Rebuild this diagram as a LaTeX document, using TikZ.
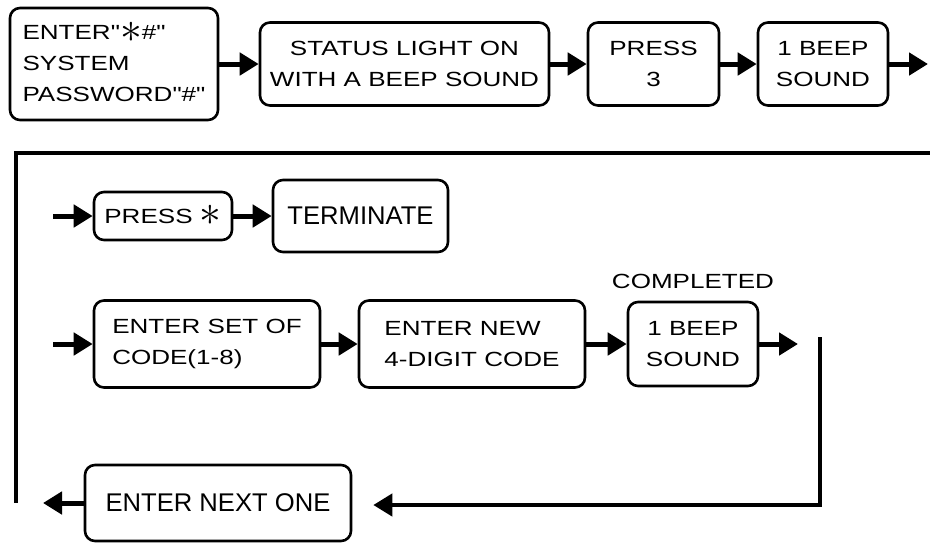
\documentclass[tikz,border=0pt]{standalone}
\usepackage{fontspec}
\setmainfont{Liberation Sans}
\newfontfamily\widefont[FakeStretch=1.27]{Liberation Sans}
\usetikzlibrary{arrows.meta}
% large centred asterisk used in the key labels
\newcommand{\keyast}{\raisebox{-2.2pt}[0pt][0pt]{\scalebox{2.1}{$\ast$}}}
\begin{document}
\begin{tikzpicture}[x=1pt,y=-1pt,
  flowbox/.style={draw, line width=2.6pt, rounded corners=10pt, inner sep=0pt,
    align=center, font=\widefont\fontsize{20.5}{31}\selectfont},
  bigbox/.style={flowbox, font=\fontsize{25.6}{30}\selectfont},
  tip/.style={-{Triangle[length=19pt,width=22pt]}},
  arr/.style={line width=5pt, tip},
  loopline/.style={line width=3.6pt}]
\useasboundingbox (0,0) rectangle (930,542);

% first row
\node[flowbox, align=left, minimum width=208pt, minimum height=112pt] (pw) at (114,64)
  {ENTER"\keyast\#"\\SYSTEM\\PASSWORD"\#"};
\node[flowbox, minimum width=289pt, minimum height=83pt] (st) at (404.5,64)
  {STATUS LIGHT ON\\WITH A BEEP SOUND};
\node[flowbox, minimum width=131pt, minimum height=83pt] (p3) at (653.5,64)
  {PRESS\\3};
\node[flowbox, minimum width=130pt, minimum height=83pt] (bp1) at (823,64)
  {1 BEEP\\SOUND};
\coordinate (out1) at (928,64);

\draw[arr] (pw) -- (st);
\draw[arr] (st) -- (p3);
\draw[arr] (p3) -- (bp1);
\draw[arr] (bp1) -- (out1);

% return frame
\coordinate (fr) at (930,153);
\coordinate (fl) at (16,153);
\coordinate (fb) at (16,503);
\draw[loopline] (fr) -- (fl) -- (fb);

% second row
\coordinate (in2) at (53,216);
\node[flowbox, minimum width=138pt, minimum height=48pt] (pst) at (163,216)
  {PRESS \keyast};
\node[bigbox, minimum width=175pt, minimum height=72pt] (term) at (360.5,216)
  {TERMINATE};
\draw[arr] (in2) -- (pst);
\draw[arr] (pst) -- (term);

% third row
\coordinate (in3) at (53,344);
\node[flowbox, align=left, minimum width=226pt, minimum height=87pt] (set) at (207,344)
  {ENTER SET OF\\CODE(1-8)};
\node[flowbox, align=left, minimum width=226pt, minimum height=87pt] (new) at (472,344)
  {ENTER NEW\\4-DIGIT CODE};
\node[flowbox, minimum width=130pt, minimum height=84pt] (bp2) at (693,344)
  {1 BEEP\\SOUND};
\node[font=\widefont\fontsize{20.5}{24}\selectfont, anchor=base, inner sep=0pt] (done)
  at ([yshift=12pt]bp2.north) {COMPLETED};
\coordinate (out3) at (798,344);
\draw[arr] (in3) -- (set);
\draw[arr] (set) -- (new);
\draw[arr] (new) -- (bp2);
\draw[arr] (bp2) -- (out3);

% return to the next entry
\node[bigbox, minimum width=266pt, minimum height=76pt] (next) at (218,503)
  {ENTER NEXT ONE};
\coordinate (rt) at (820,337);
\coordinate (rb) at (820,505);
\coordinate (lt) at (43,503);
\draw[loopline, line width=4.2pt, tip] (rt) -- (rb) -- ([xshift=21pt]next.east |- rb);
\draw[arr] (next.west) -- (lt);
\end{tikzpicture}
\end{document}
